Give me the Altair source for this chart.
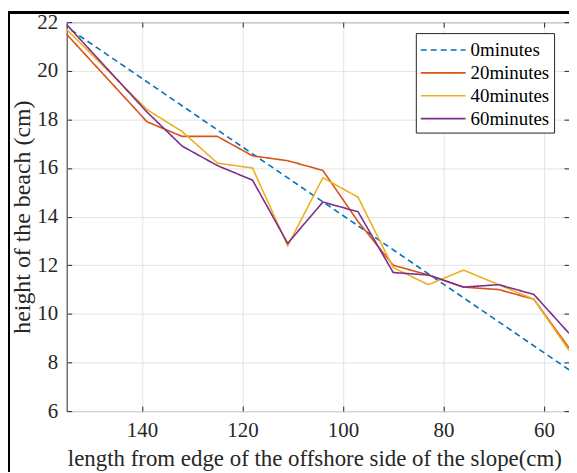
import altair as alt
import pandas as pd

# distances from the offshore edge of the slope (cm)
x_pts = [155, 139, 132, 125, 118, 111, 104, 97, 90, 83, 76, 69, 62, 55]
h20 = [21.5, 17.9, 17.3, 17.3, 16.5, 16.3, 15.9, 13.8, 12.0, 11.6, 11.1, 11.0, 10.6, 8.6]
h40 = [21.7, 18.4, 17.5, 16.2, 16.0, 12.8, 15.6, 14.8, 11.9, 11.2, 11.8, 11.2, 10.6, 8.5]
h60 = [21.9, 18.3, 16.9, 16.1, 15.5, 12.9, 14.6, 14.2, 11.7, 11.6, 11.1, 11.2, 10.8, 9.2]
x0 = [155, 55]
h0 = [21.8, 7.7]

series_names = ["0minutes", "20minutes", "40minutes", "60minutes"]
series_colors = ["#0072BD", "#D95319", "#EDB120", "#7E2F8E"]
x_ticks = [60, 80, 100, 120, 140]
y_ticks = [6, 8, 10, 12, 14, 16, 18, 20, 22]

rows = []
for xv, yv in zip(x0, h0):
    rows.append({"x": xv, "h": yv, "series": "0minutes"})
for name, arr in zip(series_names[1:], [h20, h40, h60]):
    for xv, yv in zip(x_pts, arr):
        rows.append({"x": xv, "h": yv, "series": name})
df = pd.DataFrame(rows)

W, H = 505, 391
FONT = "Liberation Serif"
INK = "#262626"

xscale = alt.Scale(domain=[55, 155], reverse=True, nice=False, zero=False)
yscale = alt.Scale(domain=[6, 22], nice=False, zero=False)

lines = alt.Chart(df).mark_line(strokeWidth=1.6).encode(
    x=alt.X("x:Q", scale=xscale,
            axis=alt.Axis(values=x_ticks, title="length from edge of the offshore side of the slope(cm)",
                          ticks=False, tickSize=0, labelPadding=9, titlePadding=7, grid=True,
                          labelFont=FONT, titleFont=FONT, titleFontSize=23, titleX=249)),
    y=alt.Y("h:Q", scale=yscale,
            axis=alt.Axis(values=y_ticks, title="height of the beach (cm)",
                          ticks=False, tickSize=0, labelPadding=9, titlePadding=2, grid=True,
                          labelFont=FONT, titleFont=FONT, titleFontSize=24)),
    color=alt.Color("series:N", scale=alt.Scale(domain=series_names, range=series_colors),
                    legend=alt.Legend(title=None, labelFont=FONT)),
    strokeDash=alt.StrokeDash("series:N",
                              scale=alt.Scale(domain=series_names, range=[[6, 4], [1, 0], [1, 0], [1, 0]]),
                              legend=alt.Legend(title=None, labelFont=FONT)),
    order=alt.Order("x:Q"),
)

tick_axis = dict(labels=False, domain=False, grid=False, ticks=True, tickSize=5, title=None,
                 tickColor=INK)

ticksA = alt.Chart(df).mark_point(opacity=0).encode(
    x=alt.X("x:Q", scale=xscale, axis=alt.Axis(values=x_ticks, orient="top", offset=-H, **tick_axis)),
    y=alt.Y("h:Q", scale=yscale, axis=alt.Axis(values=y_ticks, orient="right", offset=-W, **tick_axis)),
)
ticksB = alt.Chart(df).mark_point(opacity=0).encode(
    x=alt.X("x:Q", scale=xscale, axis=alt.Axis(values=x_ticks, orient="bottom", offset=-H, **tick_axis)),
    y=alt.Y("h:Q", scale=yscale, axis=alt.Axis(values=y_ticks, orient="left", offset=-W, **tick_axis)),
)

frame = alt.Chart(df).mark_rect(fillOpacity=0, stroke="black", strokeWidth=2).encode(
    x=alt.value(-58), x2=alt.value(530), y=alt.value(-10), y2=alt.value(470)
)

chart = alt.layer(ticksA, ticksB, lines, frame).resolve_axis(
    x="independent", y="independent"
).properties(
    width=W, height=H,
    autosize=alt.AutoSizeParams(type="none"),
    padding={"left": 59, "top": 13, "right": 0, "bottom": 60},
).configure(
    font=FONT
).configure_view(
    stroke=INK, strokeWidth=1
).configure_axis(
    labelFont=FONT, titleFont=FONT, labelFontSize=21, titleFontSize=23,
    titleFontWeight="normal", labelColor=INK, titleColor=INK,
    domain=False, gridColor="#e3e3e3", gridWidth=1
).configure_legend(
    orient="none", legendX=351, legendY=11,
    fillColor="white", strokeColor=INK, padding=4,
    labelFont=FONT, labelFontSize=19, labelColor="black", labelOffset=25,
    symbolType="M-1,0H2.75", symbolSize=576, symbolStrokeWidth=1.6, rowPadding=0
)

chart.save("out.html", embed_options={"renderer": "svg", "actions": False})
